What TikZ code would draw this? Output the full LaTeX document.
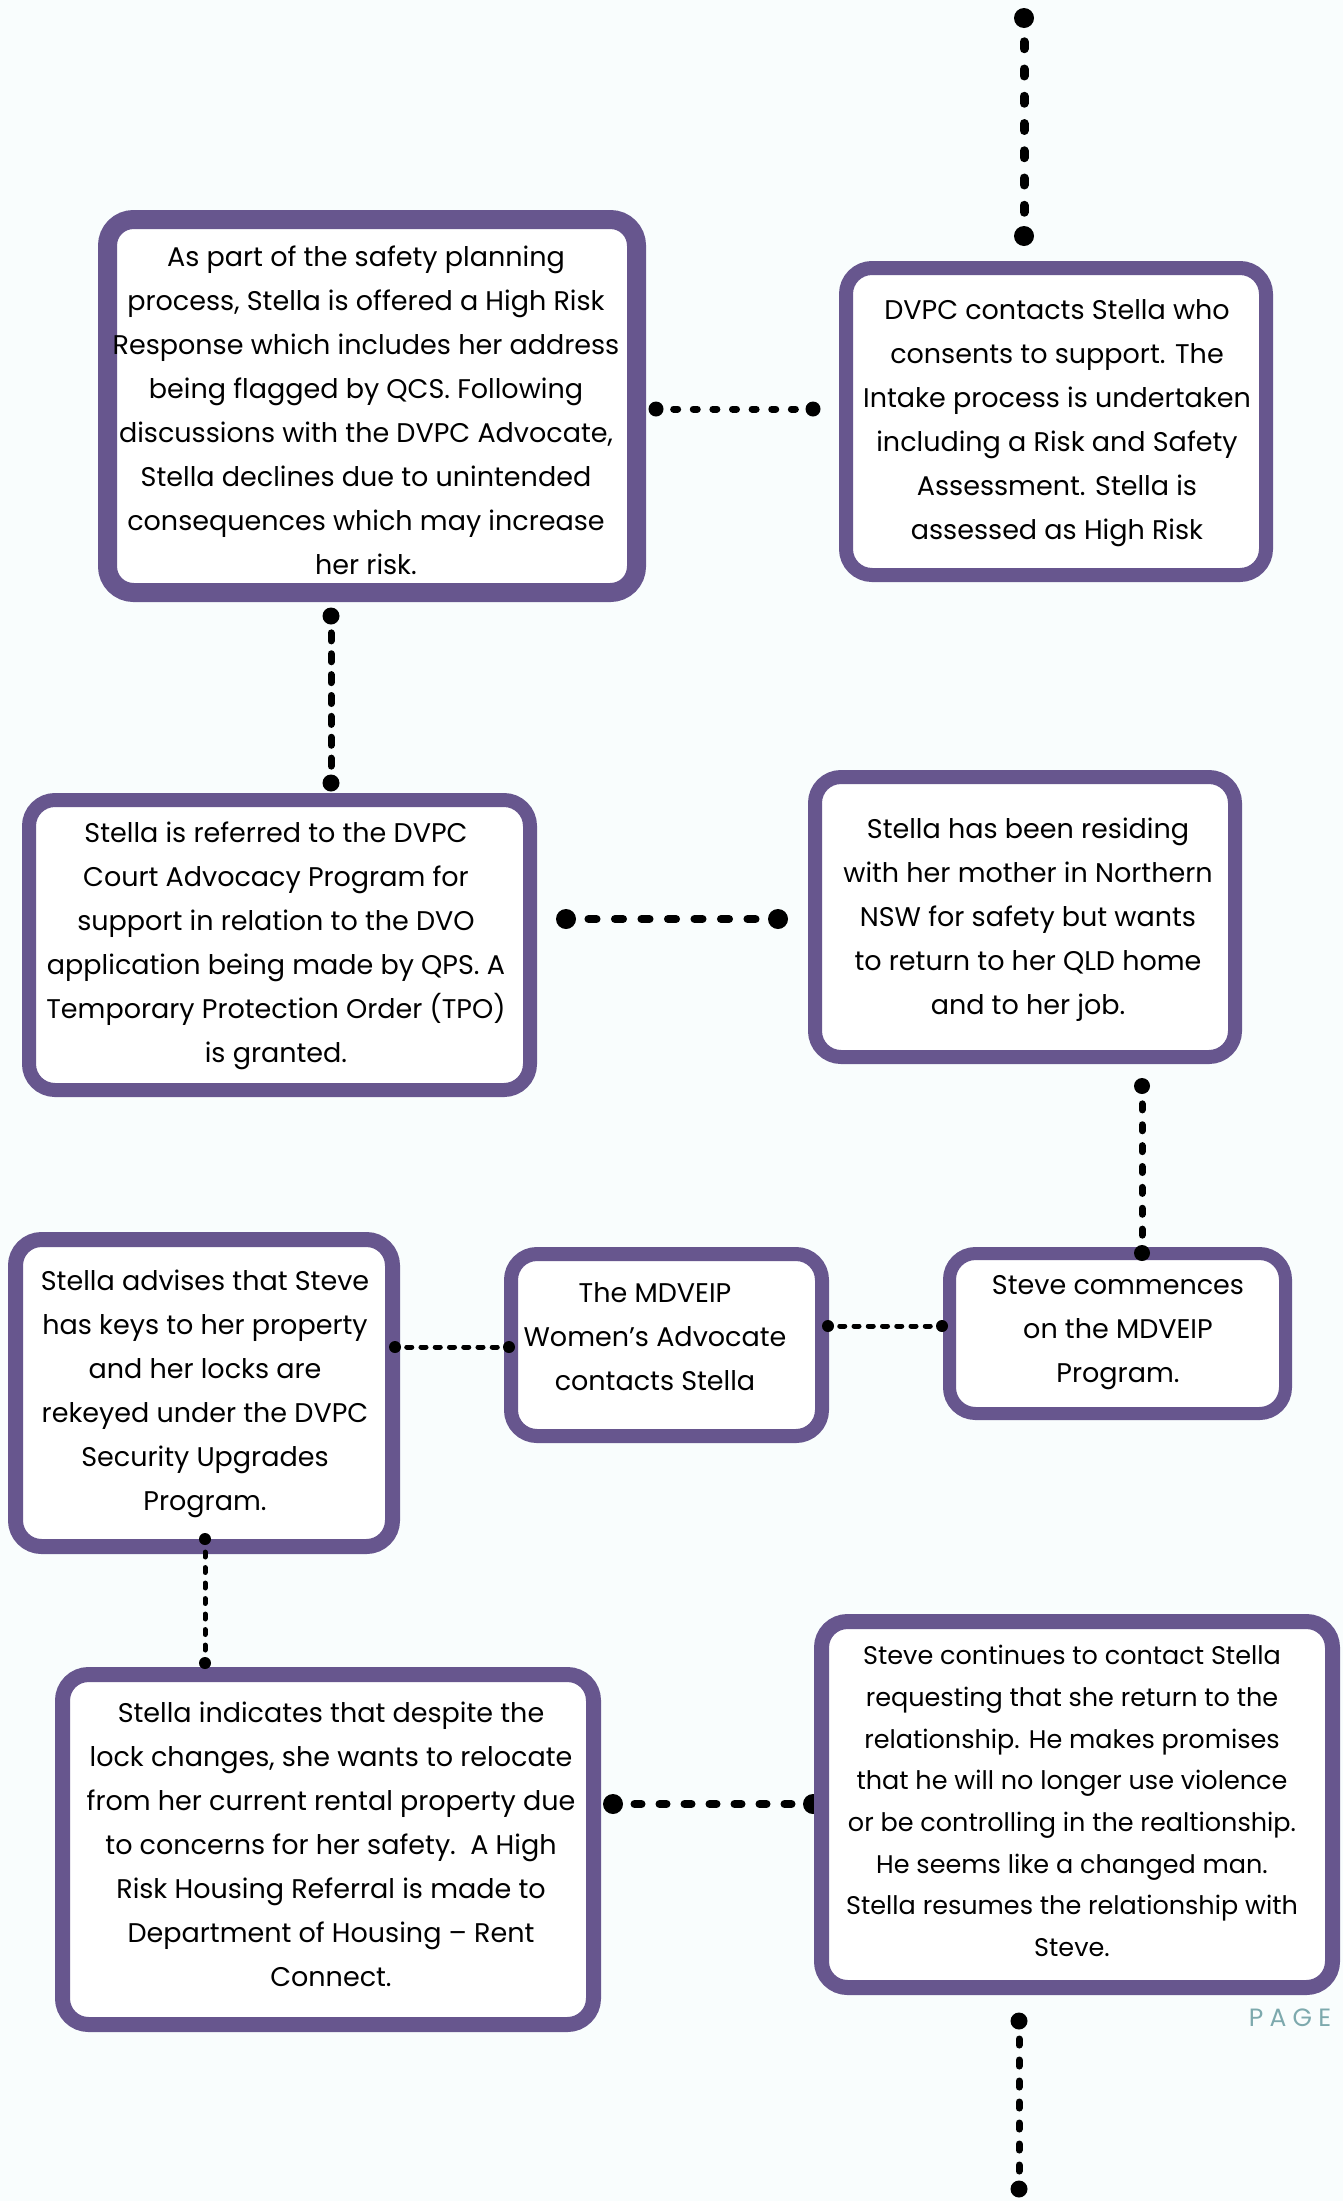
\documentclass[tikz,border=0pt]{standalone}
\usepackage{fontspec}
\setmainfont{Poppins}
\newfontfamily\pagefont[LetterSpace=25]{Poppins}
\usetikzlibrary{calc}
\definecolor{bgc}{HTML}{F9FDFD}
\definecolor{purp}{HTML}{67568E}
\definecolor{pagec}{HTML}{7DA9AD}
\tikzset{
  box/.style={draw=purp, fill=white, rounded corners=26pt, inner sep=0pt},
  txt/.style={align=center, font=\fontsize{27}{44}\selectfont, inner sep=0pt, text=black},
}
\newcommand{\dotconn}[5]{%
  \fill (#1) circle (#3);
  \fill (#2) circle (#3);
  \foreach \i in {1,...,7}{
    \draw[line width=#4, line cap=round] ($(#1)!{\i/8-#5}!(#2)$) -- ($(#1)!{\i/8+#5}!(#2)$);
  }%
}
\begin{document}
\begin{tikzpicture}[x=1pt,y=-1pt]
\fill[bgc] (0,0) rectangle (1343,2201);
\useasboundingbox (0,0) rectangle (1343,2201);

% boxes
\node[box, line width=19pt, minimum width=529pt, minimum height=373pt] (b1) at (372,406) {};
\node[box, line width=14pt, minimum width=420pt, minimum height=307pt] (b2) at (1056,421.5) {};
\node[box, line width=14pt, minimum width=501pt, minimum height=290pt] (b3) at (279.5,945) {};
\node[box, line width=14pt, minimum width=420pt, minimum height=280pt] (b4) at (1025,917) {};
\node[box, line width=13pt, minimum width=336pt, minimum height=160pt] (b5) at (1117.5,1333.5) {};
\node[box, line width=14pt, minimum width=311pt, minimum height=182pt] (b6) at (666.5,1345) {};
\node[box, line width=15pt, minimum width=377pt, minimum height=307pt] (b7) at (204,1393) {};
\node[box, line width=15pt, minimum width=531pt, minimum height=350pt] (b8) at (328,1849.5) {};

% connector end points
\coordinate (c0a) at (1024,18);   \coordinate (c0b) at (1024,236);
\coordinate (c1a) at (656,409);   \coordinate (c1b) at (813,409);
\coordinate (c2a) at (331,616);   \coordinate (c2b) at (331,783);
\coordinate (c3a) at (566,919);   \coordinate (c3b) at (778,919);
\coordinate (c4a) at (1142,1086); \coordinate (c4b) at (1142,1253);
\coordinate (c5a) at (828,1326);  \coordinate (c5b) at (942,1326);
\coordinate (c6a) at (395,1347);  \coordinate (c6b) at (509,1347);
\coordinate (c7a) at (205,1539);  \coordinate (c7b) at (205,1663);
\coordinate (c8a) at (613,1804);  \coordinate (c8b) at (813,1804);
\coordinate (c9a) at (1019,2021); \coordinate (c9b) at (1019,2189);

\dotconn{c8a}{c8b}{10pt}{8pt}{0.0175}
\node[box, line width=15pt, minimum width=511pt, minimum height=366pt] (b9) at (1077,1804.5) {};

\dotconn{c0a}{c0b}{10pt}{9pt}{0.016}
\dotconn{c1a}{c1b}{7.5pt}{7pt}{0.0127}
\dotconn{c2a}{c2b}{8.5pt}{7pt}{0.024}
\dotconn{c3a}{c3b}{10pt}{8pt}{0.019}
\dotconn{c4a}{c4b}{8pt}{7pt}{0.018}
\dotconn{c5a}{c5b}{6pt}{5pt}{0.022}
\dotconn{c6a}{c6b}{6pt}{5pt}{0.022}
\dotconn{c7a}{c7b}{6pt}{5pt}{0.02}
\dotconn{c9a}{c9b}{8.5pt}{7pt}{0.018}

% texts
\node[txt] (t1) at (366,410) {As part of the safety planning\\process, Stella is offered a High Risk\\Response which includes her address\\being flagged by QCS. Following\\discussions with the DVPC Advocate,\\Stella declines due to unintended\\consequences which may increase\\her risk.};
\node[txt] (t2) at (1057,423) {DVPC contacts Stella who\\consents to support. The\\Intake process is undertaken\\including a Risk and Safety\\Assessment. Stella is\\assessed as High Risk};
\node[txt] (t3) at (276,946) {Stella is referred to the DVPC\\Court Advocacy Program for\\support in relation to the DVO\\application being made by QPS. A\\Temporary Protection Order (TPO)\\is granted.};
\node[txt] (t4) at (1028,920) {Stella has been residing\\with her mother in Northern\\NSW for safety but wants\\to return to her QLD home\\and to her job.};
\node[txt] (t5) at (1118,1333) {Steve commences\\on the MDVEIP\\Program.};
\node[txt] (t6) at (655,1337) {The MDVEIP\\Women\char"27 s Advocate\\contacts Stella};
\node[txt] (t7) at (205,1394) {Stella advises that Steve\\has keys to her property\\and her locks are\\rekeyed under the DVPC\\Security Upgrades\\Program.};
\node[txt] (t8) at (331,1844) {Stella indicates that despite the\\lock changes, she wants to relocate\\from her current rental property due\\to concerns for her safety.\ \ A High\\Risk Housing Referral is made to\\Department of Housing – Rent\\Connect.};
\node[txt, font=\fontsize{25.5}{41.7}\selectfont] (t9) at (1072,1801) {Steve continues to contact Stella\\requesting that she return to the\\relationship. He makes promises\\that he will no longer use violence\\or be controlling in the realtionship.\\He seems like a changed man.\\Stella resumes the relationship with\\Steve.};

\node[text=pagec, font=\pagefont\fontsize{25}{25}\selectfont, inner sep=0pt] (pg) at (1290,2018) {PAGE};
\end{tikzpicture}
\end{document}
